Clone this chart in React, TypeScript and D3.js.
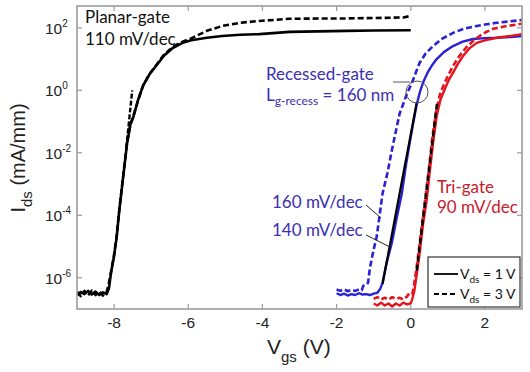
import React, { useEffect, useRef } from "react";
import * as d3 from "d3";

type Pt = [number, number]; // [Vgs (V), Ids (mA/mm)]

// Planar-gate device
const planarSolid: Pt[] = [
  [-9, 2.8e-7], [-8.9, 3.5e-7], [-8.8, 3.0e-7], [-8.7, 3.8e-7], [-8.6, 2.9e-7],
  [-8.5, 3.6e-7], [-8.4, 2.8e-7], [-8.3, 3.4e-7], [-8.2, 3.0e-7], [-8.14, 4.5e-7],
  [-8.08, 1.5e-6], [-8.0, 5e-6], [-7.93, 2e-5], [-7.86, 1.4e-4], [-7.76, 1.5e-3],
  [-7.65, 2e-2], [-7.56, 8e-2], [-7.48, 0.14], [-7.35, 0.5], [-7.22, 1.4],
  [-7.05, 3.2], [-6.86, 6.2], [-6.65, 13], [-6.41, 23], [-6.15, 33], [-5.92, 40],
  [-5.5, 48], [-5.08, 55], [-4.6, 60], [-4.08, 63], [-3.27, 74], [-2.5, 77],
  [-1.73, 80], [-1, 82], [0, 84],
];
const planarDashed: Pt[] = [
  [-9, 3.5e-7], [-8.9, 2.6e-7], [-8.8, 3.8e-7], [-8.7, 2.7e-7], [-8.6, 3.9e-7],
  [-8.5, 2.8e-7], [-8.4, 3.7e-7], [-8.3, 2.7e-7], [-8.2, 3.5e-7], [-8.15, 6e-7],
  [-8.08, 1.6e-6], [-8.0, 5.5e-6], [-7.93, 2.2e-5], [-7.86, 1.5e-4], [-7.76, 1.6e-3],
  [-7.65, 2.1e-2], [-7.56, 8e-2], [-7.48, 0.15], [-7.35, 0.5], [-7.22, 1.4],
  [-7.05, 3.3], [-6.86, 6.5], [-6.65, 14], [-6.41, 25], [-6.15, 36], [-5.92, 46],
  [-5.5, 80], [-5.08, 115], [-4.6, 145], [-4.08, 166], [-3.27, 195], [-2.5, 198],
  [-1.73, 200], [-0.7, 209], [-0.2, 215], [0, 240],
];
const planarFit: Pt[] = [[-7.67, 1.5e-2], [-7.51, 1.0]];

// Recessed-gate device
const recessSolid: Pt[] = [
  [-2, 3.2e-7], [-1.9, 2.8e-7], [-1.8, 3.1e-7], [-1.7, 2.7e-7], [-1.6, 3.0e-7],
  [-1.5, 2.8e-7], [-1.4, 3.2e-7], [-1.3, 2.9e-7], [-1.2, 3.0e-7], [-1.1, 2.8e-7],
  [-1.0, 3.1e-7], [-0.9, 3.3e-7], [-0.82, 4.5e-7], [-0.76, 7e-7], [-0.65, 3e-6],
  [-0.51, 1.3e-5], [-0.38, 8e-5], [-0.24, 5e-4], [-0.13, 4e-3], [-0.03, 2e-2],
  [0.06, 8e-2], [0.16, 0.35], [0.26, 1.0], [0.35, 2.0], [0.45, 3.6], [0.58, 6.5],
  [0.7, 10], [0.9, 17], [1.14, 26], [1.4, 36], [1.68, 44], [2.0, 47], [2.32, 48],
  [2.7, 51], [3.0, 55],
];
const recessDashed: Pt[] = [
  [-2, 4.2e-7], [-1.9, 3.8e-7], [-1.8, 4.3e-7], [-1.7, 3.7e-7], [-1.6, 4.1e-7],
  [-1.5, 3.8e-7], [-1.4, 4.2e-7], [-1.32, 4.0e-7], [-1.28, 5.5e-7], [-1.2, 5.8e-7],
  [-1.15, 7e-7], [-1.1, 2.1e-6], [-1.0, 8e-6], [-0.92, 2e-5], [-0.76, 5e-4],
  [-0.62, 2.5e-3], [-0.51, 1.2e-2], [-0.4, 5e-2], [-0.3, 0.18], [-0.22, 0.32],
  [-0.1, 0.8], [0.03, 1.7], [0.14, 3.8], [0.24, 7.6], [0.4, 15], [0.6, 26],
  [0.85, 45], [1.14, 69], [1.45, 95], [1.78, 115], [2.05, 130], [2.32, 145],
  [2.65, 160], [3.0, 178],
];
const recessFit: Pt[] = [[-0.76, 6.3e-7], [0.16, 0.4]];

// Tri-gate device
const triSolid: Pt[] = [
  [-1, 1.5e-7], [-0.9, 1.3e-7], [-0.8, 1.6e-7], [-0.7, 1.3e-7], [-0.6, 1.5e-7],
  [-0.5, 1.2e-7], [-0.4, 1.5e-7], [-0.3, 1.3e-7], [-0.2, 1.6e-7], [-0.1, 1.4e-7],
  [0.0, 1.5e-7], [0.06, 2.5e-7], [0.1, 4e-7], [0.17, 1.5e-6], [0.24, 6e-6],
  [0.33, 5e-5], [0.43, 3e-4], [0.52, 3e-3], [0.6, 2e-2], [0.7, 0.15], [0.8, 0.5],
  [0.92, 1.1], [1.03, 2.2], [1.14, 3.6], [1.27, 7], [1.4, 12], [1.58, 22],
  [1.78, 33], [2.0, 40], [2.32, 48], [2.7, 55], [3.0, 63],
];
const triDashed: Pt[] = [
  [-1, 2.1e-7], [-0.9, 2.4e-7], [-0.8, 2.0e-7], [-0.7, 2.3e-7], [-0.6, 2.0e-7],
  [-0.5, 2.4e-7], [-0.4, 2.1e-7], [-0.3, 2.3e-7], [-0.2, 2.0e-7], [-0.1, 2.5e-7],
  [-0.04, 3.2e-7], [0.04, 3.0e-7], [0.08, 5e-7], [0.14, 1.5e-6], [0.22, 8e-6],
  [0.31, 6e-5], [0.41, 5e-4], [0.5, 4e-3], [0.58, 3e-2], [0.68, 0.2], [0.78, 0.7],
  [0.9, 1.6], [1.02, 3.2], [1.14, 6], [1.3, 12], [1.5, 24], [1.7, 40], [1.86, 55],
  [2.05, 75], [2.22, 93], [2.6, 115], [3.0, 135],
];
const triFit: Pt[] = [[0.16, 1.7e-6], [0.71, 0.4]];

const xTicks = [-8, -6, -4, -2, 0, 2];
const yTickExps = [2, 0, -2, -4, -6];

const BLUE = "#2a22d4";
const BLUE_TXT = "#3b30b4";
const RED = "#e4141e";
const RED_TXT = "#c8202c";
const AXIS = "#9c9c9c";
const NOTE_FONT = "Lato, 'Open Sans', sans-serif";
const AX_FONT = "'Liberation Sans', Arial, sans-serif";

export default function App() {
  const svgRef = useRef<SVGSVGElement>(null);

  useEffect(() => {
    if (!svgRef.current) return;
    const svg = d3.select(svgRef.current);
    svg.selectAll("*").remove();

    const left = 77, right = 522, top = 6, bottom = 309;
    const x = d3.scaleLinear().domain([-9, 3]).range([left, right]);
    const y = d3.scaleLog().domain([1e-7, 5e2]).range([bottom, top]);

    svg.append("defs").append("clipPath").attr("id", "plot")
      .append("rect").attr("x", left).attr("y", top)
      .attr("width", right - left).attr("height", bottom - top);

    const line = d3.line<Pt>().x((d) => x(d[0])).y((d) => y(d[1]));
    const g = svg.append("g").attr("clip-path", "url(#plot)");

    const series: { data: Pt[]; color: string; dash?: string; w: number }[] = [
      { data: planarDashed, color: "#000", dash: "6,3", w: 2.6 },
      { data: planarSolid, color: "#000", w: 2.6 },
      { data: planarFit, color: "#000", dash: "5,2", w: 2.4 },
      { data: recessDashed, color: BLUE, dash: "6,3", w: 2.6 },
      { data: recessSolid, color: BLUE, w: 2.4 },
      { data: triDashed, color: RED, dash: "6,3", w: 2.6 },
      { data: triSolid, color: RED, w: 2.4 },
      { data: recessFit, color: "#000", w: 2.2 },
      { data: triFit, color: "#000", dash: "6,3", w: 2.4 },
    ];
    series.forEach((s) => {
      g.append("path")
        .attr("d", line(s.data)!)
        .attr("fill", "none")
        .attr("stroke", s.color)
        .attr("stroke-width", s.w)
        .attr("stroke-dasharray", s.dash ?? null)
        .attr("stroke-linejoin", "round");
    });

    // Frame and ticks
    svg.append("rect")
      .attr("x", left).attr("y", top)
      .attr("width", right - left).attr("height", bottom - top)
      .attr("fill", "none").attr("stroke", AXIS).attr("stroke-width", 1.6);

    const tl = 5;
    xTicks.forEach((t) => {
      const px = x(t);
      svg.append("line").attr("x1", px).attr("x2", px).attr("y1", bottom).attr("y2", bottom - tl)
        .attr("stroke", AXIS).attr("stroke-width", 1.2);
      svg.append("line").attr("x1", px).attr("x2", px).attr("y1", top).attr("y2", top + tl)
        .attr("stroke", AXIS).attr("stroke-width", 1.2);
      svg.append("text")
        .attr("x", px).attr("y", 328)
        .attr("text-anchor", "middle")
        .style("font-family", AX_FONT).style("font-size", "15.5px").style("fill", "#222")
        .text(String(t));
    });

    yTickExps.forEach((e) => {
      const py = y(Math.pow(10, e));
      svg.append("line").attr("x1", left).attr("x2", left + tl).attr("y1", py).attr("y2", py)
        .attr("stroke", AXIS).attr("stroke-width", 1.2);
      svg.append("line").attr("x1", right).attr("x2", right - tl).attr("y1", py).attr("y2", py)
        .attr("stroke", AXIS).attr("stroke-width", 1.2);
      const txt = svg.append("text")
        .attr("x", 45).attr("y", py + 6)
        .style("font-family", AX_FONT).style("font-size", "15.5px").style("fill", "#222");
      txt.append("tspan").text("10");
      txt.append("tspan").attr("dy", -7).style("font-size", "10px").text(String(e));
    });

    // Axis titles
    const xt = svg.append("text")
      .attr("x", 267).attr("y", 354)
      .style("font-family", AX_FONT).style("font-size", "21px").style("fill", "#222");
    xt.append("tspan").text("V");
    xt.append("tspan").attr("dy", 8).style("font-size", "15px").text("gs");
    xt.append("tspan").attr("dy", -8).text(" (V)");

    const yt = svg.append("text")
      .attr("transform", "translate(25,158) rotate(-90)")
      .attr("text-anchor", "middle")
      .style("font-family", AX_FONT).style("font-size", "20px").style("fill", "#222");
    yt.append("tspan").text("I");
    yt.append("tspan").attr("dy", 7).style("font-size", "15px").text("ds");
    yt.append("tspan").attr("dy", -7).text(" (mA/mm)");

    // Annotations
    const note = (tx: number, ty: number, s: string, color: string) =>
      svg.append("text").attr("x", tx).attr("y", ty)
        .style("font-family", NOTE_FONT).style("font-size", "17px").style("fill", color)
        .text(s);

    note(85, 23, "Planar-gate", "#111");
    note(85, 45, "110 mV/dec", "#111");

    note(266, 80, "Recessed-gate", BLUE_TXT);
    const lg = svg.append("text").attr("x", 266).attr("y", 101)
      .style("font-family", NOTE_FONT).style("font-size", "17px").style("fill", BLUE_TXT);
    lg.append("tspan").text("L");
    lg.append("tspan").attr("dy", 4).style("font-size", "12px").text("g-recess");
    lg.append("tspan").attr("dy", -4).text(" = 160 nm");

    svg.append("circle").attr("cx", 417).attr("cy", 92).attr("r", 11)
      .attr("fill", "none").attr("stroke", "#555").attr("stroke-width", 1);
    svg.append("line").attr("x1", 393).attr("x2", 410).attr("y1", 82).attr("y2", 82)
      .attr("stroke", "#555").attr("stroke-width", 1);

    note(437, 193, "Tri-gate", RED_TXT);
    note(437, 213, "90 mV/dec", RED_TXT);

    note(272, 208, "160 mV/dec", BLUE_TXT);
    note(272, 236, "140 mV/dec", BLUE_TXT);
    svg.append("line").attr("x1", 366).attr("y1", 205).attr("x2", 381).attr("y2", 218)
      .attr("stroke", "#222").attr("stroke-width", 1);
    svg.append("line").attr("x1", 366).attr("y1", 235).attr("x2", 390).attr("y2", 247)
      .attr("stroke", "#222").attr("stroke-width", 1);

    // Legend
    svg.append("rect").attr("x", 428).attr("y", 257).attr("width", 92).attr("height", 50)
      .attr("fill", "#fff").attr("stroke", "#333").attr("stroke-width", 1.2);
    [
      { yy: 274, dash: null as string | null, label: " = 1 V" },
      { yy: 294, dash: "5,3", label: " = 3 V" },
    ].forEach((r) => {
      svg.append("line").attr("x1", 434).attr("x2", 458).attr("y1", r.yy).attr("y2", r.yy)
        .attr("stroke", "#000").attr("stroke-width", 1.8).attr("stroke-dasharray", r.dash);
      const t = svg.append("text").attr("x", 460).attr("y", r.yy + 5)
        .style("font-family", NOTE_FONT).style("font-size", "14px").style("fill", "#111");
      t.append("tspan").text("V");
      t.append("tspan").attr("dy", 4).style("font-size", "10px").text("ds");
      t.append("tspan").attr("dy", -4).text(r.label);
    });
  }, []);

  return (
    <svg
      ref={svgRef}
      width={530}
      height={372}
      style={{ position: "absolute", left: 0, top: 0, background: "#fff" }}
    />
  );
}
